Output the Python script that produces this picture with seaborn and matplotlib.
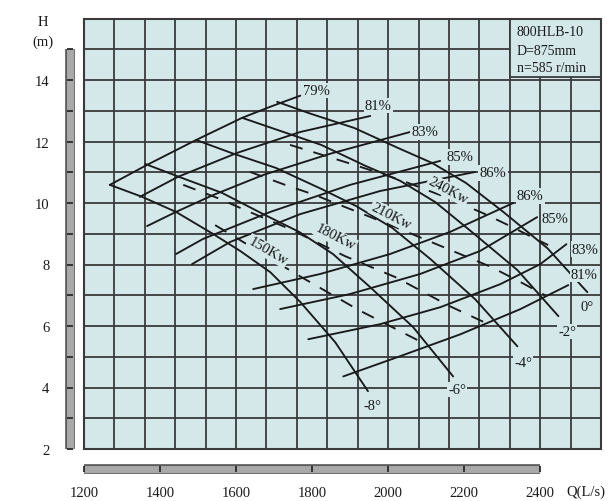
import matplotlib
matplotlib.use("Agg")
import numpy as np
import pandas as pd
import matplotlib.pyplot as plt
import matplotlib.patheffects as pe
import seaborn as sns
from matplotlib.patches import Rectangle
from matplotlib.ticker import FixedLocator

# ------------------------------------------------------------------ data
# Blade-angle H-Q curves (Q in L/s, H in m)
q_m8 = [1268, 1353, 1442, 1540, 1611, 1690, 1769, 1861, 1947]
h_m8 = [10.59, 10.20, 9.71, 8.99, 8.44, 7.75, 6.78, 5.47, 3.88]
q_m6 = [1361, 1450, 1563, 1676, 1766, 1855, 1953, 2066, 2171]
h_m6 = [11.27, 10.85, 10.33, 9.61, 9.06, 8.34, 7.26, 5.96, 4.36]
q_m4 = [1495, 1587, 1705, 1824, 1916, 2011, 2111, 2229, 2340]
h_m4 = [12.05, 11.63, 11.14, 10.46, 9.90, 9.19, 8.18, 6.87, 5.34]
q_m2 = [1616, 1708, 1824, 1940, 2032, 2124, 2224, 2340, 2448]
h_m2 = [12.77, 12.38, 11.89, 11.21, 10.72, 10.03, 9.02, 7.82, 6.32]
q_0 = [1708, 1797, 1911, 2026, 2116, 2205, 2303, 2419, 2524]
h_0 = [13.29, 12.90, 12.44, 11.79, 11.30, 10.65, 9.71, 8.53, 7.10]
angle_labels = ["-8°", "-6°", "-4°", "-2°", "0°"]

# Iso-efficiency lines, upper (left) branches
q_e79 = [1268, 1366, 1495, 1616, 1690, 1769]
h_e79 = [10.59, 11.24, 12.05, 12.77, 13.13, 13.49]
q_e81 = [1347, 1447, 1603, 1769, 1953]
h_e81 = [10.20, 10.85, 11.63, 12.31, 12.83]
q_e83 = [1366, 1442, 1540, 1671, 1847, 2058]
h_e83 = [9.25, 9.71, 10.26, 10.91, 11.60, 12.31]
q_e85 = [1442, 1513, 1690, 1900, 2137]
h_e85 = [8.34, 8.83, 9.71, 10.59, 11.37]
q_e86 = [1484, 1584, 1769, 1979, 2229]
h_e86 = [8.01, 8.73, 9.64, 10.39, 11.01]
upper_eff_labels = ["79%", "81%", "83%", "85%", "86%"]

# Iso-efficiency lines, lower (right) branches
q_f86 = [1645, 1821, 2005, 2163, 2329]
h_f86 = [7.20, 7.69, 8.34, 9.06, 10.00]
q_f85 = [1716, 1900, 2084, 2242, 2392]
h_f85 = [6.55, 7.04, 7.69, 8.44, 9.54]
q_f83 = [1790, 1979, 2137, 2295, 2400, 2469]
h_f83 = [5.57, 6.06, 6.61, 7.36, 8.01, 8.66]
q_f81 = [1882, 2032, 2190, 2348, 2474]
h_f81 = [4.36, 5.02, 5.73, 6.55, 7.33]
lower_eff_labels = ["86%", "85%", "83%", "81%"]

# Iso-power lines (dashed)
q_p150 = [1545, 1611, 1697, 1776, 1924, 2084]
h_p150 = [9.28, 8.79, 8.14, 7.56, 6.51, 5.50]
q_p180 = [1461, 1558, 1624, 1742, 1887, 2019, 2163, 2269]
h_p180 = [10.59, 10.13, 9.77, 9.15, 8.27, 7.59, 6.64, 6.03]
q_p210 = [1637, 1729, 1808, 1874, 1934, 2032, 2203, 2271, 2348, 2413]
h_p210 = [11.01, 10.59, 10.26, 9.93, 9.64, 9.15, 8.27, 7.92, 7.43, 7.00]
q_p240 = [1742, 1911, 2032, 2158, 2255, 2321, 2421]
h_p240 = [11.89, 11.24, 10.75, 10.16, 9.64, 9.25, 8.63]
power_labels = ["150Kw", "180Kw", "210Kw", "240Kw"]

x_ticks = [1200, 1400, 1600, 1800, 2000, 2200, 2400]
y_ticks = [2, 4, 6, 8, 10, 12, 14]
y_minor = [3, 5, 7, 9, 11, 13, 15]
info_lines = ["800HLB-10", "D=875mm", "n=585 r/min"]

# ------------------------------------------------------------------ style
sns.set_style("white")
plt.rcParams['font.family'] = ['Liberation Serif', 'DejaVu Serif']

BG = '#d4e8ea'
INK = '#1a1a1a'
GRID = '#3a3a3a'
FS = 10.5

fig = plt.figure(figsize=(6.1, 5.02), dpi=100)
W, H = 610, 502
ax = fig.add_axes([84 / W, 1 - 450 / H, (601 - 84) / W, (450 - 19.5) / H])
ax.set_facecolor(BG)
ax.set_xlim(1200, 2560)
ax.set_ylim(2, 16)

# background grid (every 80 L/s and every 1 m)
ax.vlines(np.arange(1200, 2561, 80), 2, 16, colors=GRID, lw=1.3, zorder=1)
ax.hlines(np.arange(2, 17, 1), 1200, 2560, colors=GRID, lw=1.3, zorder=1)
ax.add_patch(Rectangle((0, 0), 1, 1, transform=ax.transAxes, fill=False,
                       ec=GRID, lw=1.5, clip_on=False, zorder=5))


def curve(q, h, dashed=False):
    df = pd.DataFrame({"Q": q, "H": h})
    sns.lineplot(data=df, x="Q", y="H", ax=ax, sort=False, estimator=None,
                 color=INK, lw=1.35, zorder=3,
                 linestyle=(0, (7, 6)) if dashed else '-')


for q, h in [(q_m8, h_m8), (q_m6, h_m6), (q_m4, h_m4), (q_m2, h_m2), (q_0, h_0)]:
    curve(q, h)
for q, h in [(q_e79, h_e79), (q_e81, h_e81), (q_e83, h_e83), (q_e85, h_e85), (q_e86, h_e86)]:
    curve(q, h)
for q, h in [(q_f86, h_f86), (q_f85, h_f85), (q_f83, h_f83), (q_f81, h_f81)]:
    curve(q, h)
for q, h in [(q_p150, h_p150), (q_p180, h_p180), (q_p210, h_p210), (q_p240, h_p240)]:
    curve(q, h, dashed=True)

box = dict(boxstyle='square,pad=0.08', fc=BG, ec='none')


def label(txt, x, y, rot=0):
    ax.text(x, y, txt, fontsize=FS, color=INK, ha='center', va='center',
            rotation=rot, rotation_mode='anchor', bbox=box, zorder=4)


angle_pos = [(1958, 3.42), (2182, 3.94), (2355, 4.82), (2471, 5.83), (2524, 6.64)]
for t, (x, y) in zip(angle_labels, angle_pos):
    label(t, x, y)
upper_pos = [(1811, 13.65), (1974, 13.16), (2097, 12.31), (2190, 11.50), (2276, 10.98)]
for t, (x, y) in zip(upper_eff_labels, upper_pos):
    label(t, x, y)
lower_pos = [(2374, 10.23), (2440, 9.51), (2519, 8.50), (2516, 7.69)]
for t, (x, y) in zip(lower_eff_labels, lower_pos):
    label(t, x, y)
power_pos = [(1684, 8.44, -30), (1861, 8.89, -27), (2008, 9.58, -27), (2158, 10.42, -28)]
for t, (x, y, r) in zip(power_labels, power_pos):
    label(t, x, y, r)

# info box
ax.add_patch(Rectangle((2320, 14.1), 240, 1.9, fc=BG, ec=GRID, lw=1.3, zorder=4))
for t, y in zip(info_lines, [15.57, 14.97, 14.42]):
    ax.text(2338, y, t, fontsize=FS - 0.5, color=INK, ha='left', va='center', zorder=5)

# axes: offset gray scale bars with tick marks
for s in ['top', 'right']:
    ax.spines[s].set_visible(False)
bar_fx = [pe.Stroke(linewidth=7, foreground='#5c5c5c'), pe.Normal()]
ax.spines['left'].set_position(('outward', 10.4))
ax.spines['left'].set_bounds(2, 15)
ax.spines['bottom'].set_position(('outward', 14.5))
ax.spines['bottom'].set_bounds(1200, 2400)
for s in ['left', 'bottom']:
    sp = ax.spines[s]
    sp.set_linewidth(5)
    sp.set_color('#a9a9a9')
    sp.set_capstyle('butt')
    sp.set_path_effects(bar_fx)
    sp.set_zorder(0.1)
ax.xaxis.set_zorder(2)
ax.yaxis.set_zorder(2)

ax.yaxis.set_major_locator(FixedLocator(y_ticks))
ax.yaxis.set_minor_locator(FixedLocator(y_minor))
ax.xaxis.set_major_locator(FixedLocator(x_ticks))
ax.xaxis.set_minor_locator(FixedLocator([]))
ax.tick_params(axis='y', which='both', direction='inout', length=5, width=1.3,
               color='#2a2a2a', labelsize=FS, pad=12, left=True)
ax.tick_params(axis='x', which='both', direction='inout', length=5, width=1.3,
               color='#2a2a2a', labelsize=FS, pad=10, bottom=True)
ax.set_xlabel("")
ax.set_ylabel("")
for lab in ax.get_xticklabels() + ax.get_yticklabels():
    lab.set_color(INK)

fig.text(43 / W, 1 - 22 / H, "H", fontsize=FS, ha='center', va='center', color=INK)
fig.text(43 / W, 1 - 42 / H, "(m)", fontsize=FS, ha='center', va='center', color=INK)
fig.text(586 / W, 1 - 492 / H, "Q(L/s)", fontsize=FS, ha='center', va='center', color=INK)

fig.savefig("out.png", dpi=100, facecolor='white')
